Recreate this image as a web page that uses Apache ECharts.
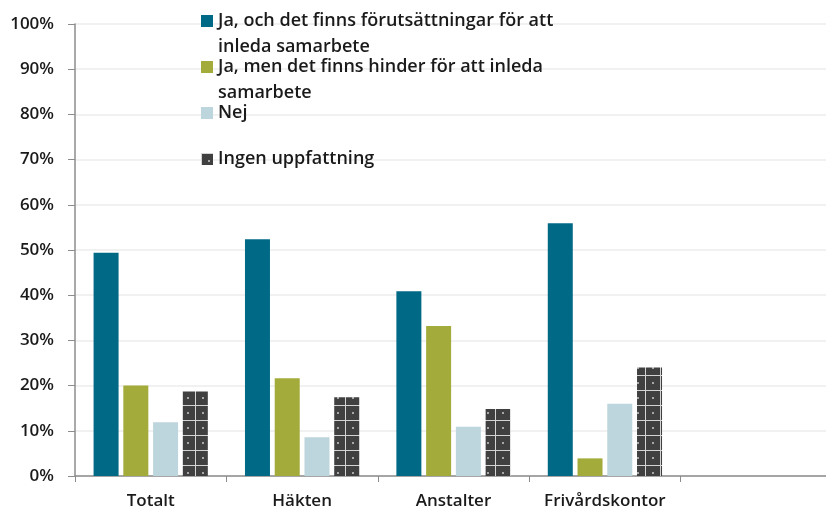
<!DOCTYPE html>
<html>
<head>
<meta charset="utf-8">
<script src="https://cdn.jsdelivr.net/npm/echarts@6/dist/echarts.min.js"></script>
<style>
  html, body { margin: 0; padding: 0; background: #fff; }
  #chart { width: 826px; height: 510px; }
</style>
</head>
<body>
<div id="chart"></div>
<script>
// data (percent)
const categories = ['Totalt', 'Häkten', 'Anstalter', 'Frivårdskontor', ''];
const seriesNames = [
  'Ja, och det finns förutsättningar för att inleda samarbete',
  'Ja, men det finns hinder för att inleda samarbete',
  'Nej',
  'Ingen uppfattning'
];
const jaForutsattningar = [49.4, 52.4, 40.9, 55.9, null];
const jaHinder = [20.0, 21.6, 33.2, 3.9, null];
const nej = [11.9, 8.6, 10.9, 16.0, null];
const ingenUppfattning = [18.7, 17.4, 14.8, 24.0, null];
const yTicks = [0, 10, 20, 30, 40, 50, 60, 70, 80, 90, 100];

const FONT = 'Open Sans';

// dark checkered pattern for "Ingen uppfattning"
function makePattern() {
  const c = document.createElement('canvas');
  c.width = 15; c.height = 15;
  const ctx = c.getContext('2d');
  ctx.fillStyle = '#404040';
  ctx.fillRect(0, 0, 15, 15);
  ctx.fillStyle = '#d4d4d4';
  ctx.fillRect(0, 0, 15, 1);
  ctx.fillRect(0, 0, 1, 15);
  ctx.fillStyle = '#a8a8a8';
  ctx.fillRect(7, 7, 2, 2);
  return c;
}
const pattern = { image: makePattern(), repeat: 'repeat' };

const colors = ['#006a86', '#a3ab3b', '#bdd5dc', '#404040'];

const chart = echarts.init(document.getElementById('chart'));

const legendText = { fontFamily: FONT, fontSize: 18, fontWeight: 600, color: '#1a1a1a', lineHeight: 26 };

function legendFor(i, top, label) {
  return {
    left: 201,
    top: top,
    padding: 0,
    itemWidth: 12,
    itemHeight: 12,
    itemGap: 0,
    icon: 'rect',
    selectedMode: false,
    data: [seriesNames[i]],
    formatter: () => label,
    textStyle: legendText
  };
}

const option = {
  animation: false,
  color: colors,
  // plot runs a little past the right edge of the picture
  grid: { left: 75, width: 757, top: 24, bottom: 34, outerBoundsMode: 'none' },
  legend: [
    // leading blank line keeps the first text line level with the icon
    legendFor(0, -18, ' \nJa, och det finns förutsättningar för att\ninleda samarbete'),
    legendFor(1, 28, ' \nJa, men det finns hinder för att inleda\nsamarbete'),
    legendFor(2, 100, 'Nej'),
    legendFor(3, 146, 'Ingen uppfattning')
  ],
  xAxis: {
    type: 'category',
    data: categories,
    axisLine: { lineStyle: { color: '#8c8c8c', width: 1.5 } },
    axisTick: { show: true, interval: 0, length: 6, lineStyle: { color: '#8c8c8c' } },
    axisLabel: { interval: 0, fontFamily: FONT, fontSize: 17, fontWeight: 600, color: '#1a1a1a', margin: 17 }
  },
  yAxis: {
    type: 'value',
    min: 0,
    max: 100,
    interval: 10,
    axisLine: { show: true, lineStyle: { color: '#8c8c8c', width: 1.5 } },
    axisTick: { show: true, length: 7, lineStyle: { color: '#8c8c8c' } },
    splitLine: { lineStyle: { color: '#ececec', width: 1.5 } },
    axisLabel: {
      fontFamily: FONT, fontSize: 17, fontWeight: 600, color: '#1a1a1a', margin: 21,
      formatter: v => yTicks.includes(v) ? v + '%' : ''
    }
  },
  series: [
    { name: seriesNames[0], type: 'bar', data: jaForutsattningar, barWidth: 25, barGap: '19%', itemStyle: { color: colors[0] } },
    { name: seriesNames[1], type: 'bar', data: jaHinder, barWidth: 25, barGap: '19%', itemStyle: { color: colors[1] } },
    { name: seriesNames[2], type: 'bar', data: nej, barWidth: 25, barGap: '19%', itemStyle: { color: colors[2] } },
    { name: seriesNames[3], type: 'bar', data: ingenUppfattning, barWidth: 25, barGap: '19%', itemStyle: { color: pattern } }
  ]
};

chart.setOption(option);
</script>
</body>
</html>
